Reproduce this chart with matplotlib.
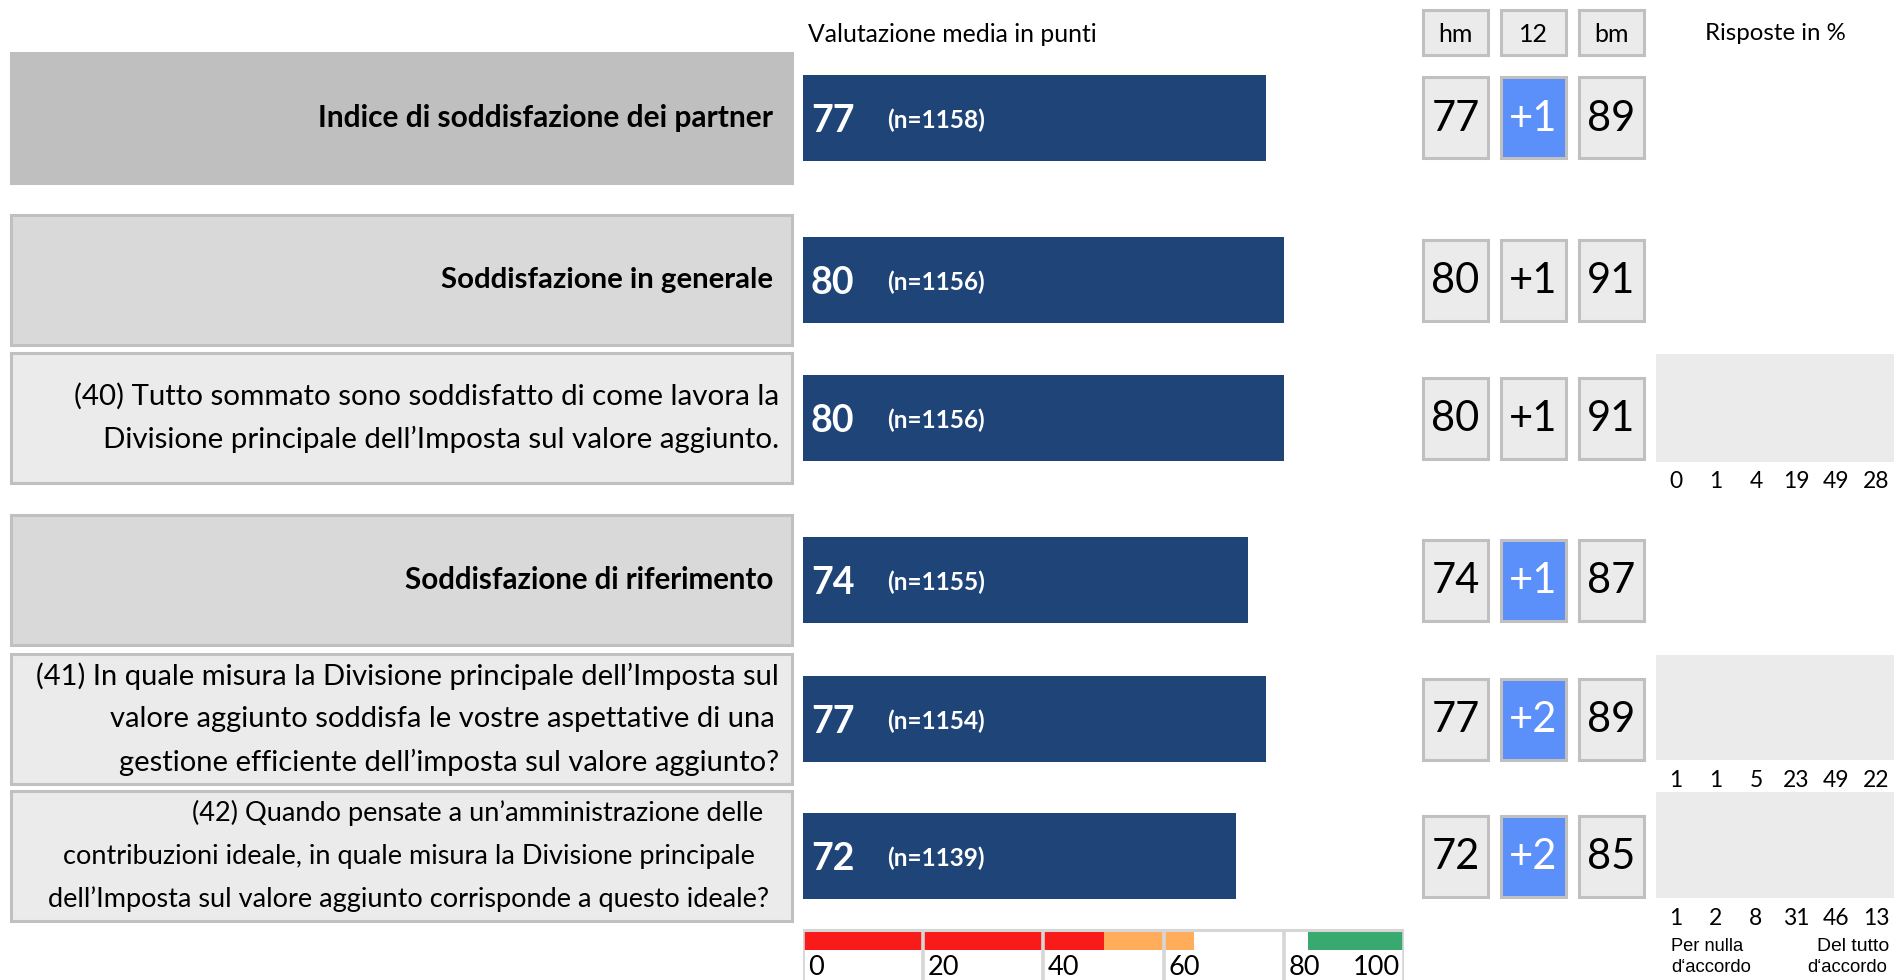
import matplotlib
matplotlib.use("Agg")
import matplotlib.pyplot as plt
from matplotlib.patches import Rectangle

# ---------------- data ----------------
labels = [
    ["Indice di soddisfazione dei partner"],
    ["Soddisfazione in generale"],
    ["(40) Tutto sommato sono soddisfatto di come lavora la",
     "Divisione principale dell\u2019Imposta sul valore aggiunto."],
    ["Soddisfazione di riferimento"],
    ["(41) In quale misura la Divisione principale dell\u2019Imposta sul",
     "valore aggiunto soddisfa le vostre aspettative di una",
     "gestione efficiente dell\u2019imposta sul valore aggiunto?"],
    ["(42) Quando pensate a un\u2019amministrazione delle",
     "contribuzioni ideale, in quale misura la Divisione principale",
     "dell\u2019Imposta sul valore aggiunto corrisponde a questo ideale?"],
]
label_bold = [True, True, False, True, False, False]
scores = [77, 80, 80, 74, 77, 72]
n_resp = [1158, 1156, 1156, 1155, 1154, 1139]
hm_vals = [77, 80, 80, 74, 77, 72]
delta_vals = ["+1", "+1", "+1", "+1", "+2", "+2"]
delta_highlight = [True, False, False, True, True, True]
bm_vals = [89, 91, 91, 87, 89, 85]
dist_rows = [2, 4, 5]
dist_vals = [[0, 1, 4, 19, 49, 28],
             [1, 1, 5, 23, 49, 22],
             [1, 2, 8, 31, 46, 13]]
col_headers = ["hm", "12", "bm"]
scale_ticks = [0, 20, 40, 60, 80, 100]
band_lo = [0, 50, 84]
band_hi = [50, 65, 100]
band_colors = ["#f91a1a", "#ffad5b", "#38a96f"]

# ---------------- layout ----------------
W, H = 1894, 980
FONT = "Lato"
NAVY = "#1e4478"
GRID = "#c0c0c0"
row_top = [53, 215, 353, 515, 654, 791]
row_h = 130
row_fill = ["#bfbfbf", "#d9d9d9", "#ebebeb", "#d9d9d9", "#ebebeb", "#ebebeb"]
row_edge = ["#bfbfbf", GRID, GRID, GRID, GRID, GRID]
centers = [t + row_h / 2 for t in row_top]
# line geometry for labels: (right x, target width)
line_geom = [
    [(773, 457)],
    [(773, 333)],
    [(779, 702), (779, 674)],
    [(773, 371)],
    [(779, 756), (775, 651), (779, 655)],
    [(763, 543), (755, 698), (769, 742)],
]
line_gap = 43

fig = plt.figure(figsize=(W / 100, H / 100), dpi=100)
bg = fig.add_axes([0, 0, 1, 1])
bg.set_xlim(0, W)
bg.set_ylim(H, 0)
bg.axis("off")

bx = fig.add_axes([803 / W, 0, 601 / W, 1])
bx.set_xlim(0, 100)
bx.set_ylim(H, 0)
bx.axis("off")
bx.patch.set_alpha(0)

fig.canvas.draw()
rend = fig.canvas.get_renderer()


def fit(t, target):
    w = t.get_window_extent(rend).width
    t.set_fontsize(t.get_fontsize() * target / w)
    return t.get_fontsize()


def box(x0, y0, w, h, fc, ec=GRID, lw=2.2):
    bg.add_patch(Rectangle((x0, y0), w, h, facecolor=fc, edgecolor=ec,
                           linewidth=lw, zorder=1))


# label boxes + label text
for i in range(len(labels)):
    box(11, row_top[i], 781, row_h, row_fill[i], row_edge[i])
    lines = labels[i]
    k = len(lines)
    texts = []
    sizes = []
    for j, s in enumerate(lines):
        y = centers[i] + (j - (k - 1) / 2) * line_gap
        xr, tw = line_geom[i][j]
        t = bg.text(xr, y, s, ha="right", va="center", fontsize=18,
                    family=FONT, fontweight="bold" if label_bold[i] else "normal",
                    color="black", zorder=3)
        sizes.append(fit(t, tw))
        texts.append(t)
    fs = sum(sizes) / len(sizes)
    for t in texts:
        t.set_fontsize(fs)

# bars (drawn in the 0-100 score axes)
bx.barh(centers, scores, height=86, color=NAVY, zorder=2)
for i, c in enumerate(centers):
    bx.text(811, c + 3, str(scores[i]), ha="left", va="center",
            transform=bg.transData, family=FONT, fontweight="bold",
            color="white", fontsize=27, zorder=5)
    t2 = bx.text(887, c + 2, f"(n={n_resp[i]})", ha="left", va="center",
                 transform=bg.transData, family=FONT, fontweight="bold",
                 color="white", fontsize=15, zorder=5)
    fit(t2, 98)

# header texts
t = bg.text(808, 35, "Valutazione media in punti", ha="left", va="center",
            family=FONT, fontsize=16)
fit(t, 290)
t = bg.text(1775, 34, "Risposte in %", ha="center", va="center",
            family=FONT, fontsize=16)
fit(t, 141)

# hm / 12 / bm boxes
col_x = [1423, 1501, 1579]
col_w = 65
for k, hdr in enumerate(col_headers):
    box(col_x[k], 10, col_w, 45, "#ebebeb")
    bg.text(col_x[k] + col_w / 2, 34, hdr, ha="center", va="center",
            family=FONT, fontsize=18, zorder=3)

for i, c in enumerate(centers):
    bh = 81
    y0 = c - bh / 2
    box(col_x[0], y0, col_w, bh, "#ebebeb")
    bg.text(col_x[0] + col_w / 2, c + 1, str(hm_vals[i]), ha="center", va="center",
            family=FONT, fontsize=30, zorder=3)
    hi = delta_highlight[i]
    box(col_x[1], y0, col_w, bh, "#5b8ff9" if hi else "#ebebeb")
    bg.text(col_x[1] + col_w / 2, c + 1, delta_vals[i], ha="center", va="center",
            family=FONT, fontsize=30, color="white" if hi else "black", zorder=3)
    box(col_x[2], y0, col_w, bh, "#ebebeb")
    bg.text(col_x[2] + col_w / 2, c + 1, str(bm_vals[i]), ha="center", va="center",
            family=FONT, fontsize=30, zorder=3)

# response distribution panels
dist_box_h = [108, 105, 106]
num_y = [481, 780, 918]
for m, r in enumerate(dist_rows):
    y0 = row_top[r] + 1
    bg.add_patch(Rectangle((1656, y0), 238, dist_box_h[m], facecolor="#ebebeb",
                           edgecolor="none", zorder=1))
    for q, v in enumerate(dist_vals[m]):
        bg.text(1656 + (q + 0.5) * 40, num_y[m], str(v), ha="center", va="center",
                family=FONT, fontsize=16.5, zorder=3)

t = bg.text(1671, 946, "Per nulla", ha="left", va="center",
            family="Liberation Sans", fontsize=11)
fit(t, 72)
t = bg.text(1671, 967, "d\u2018accordo", ha="left", va="center",
            family="Liberation Sans", fontsize=11)
fit(t, 80)
t = bg.text(1889, 946, "Del tutto", ha="right", va="center",
            family="Liberation Sans", fontsize=11)
fit(t, 72)
t = bg.text(1887, 967, "d\u2018accordo", ha="right", va="center",
            family="Liberation Sans", fontsize=11)
fit(t, 80)

# colour scale legend
for lo, hi_, col in zip(band_lo, band_hi, band_colors):
    bx.barh(941, hi_ - lo, left=lo, height=18, color=col, zorder=2)
bx.hlines(930, 0, 100, color="#d6d6d6", lw=2.2, zorder=3)
bx.vlines(scale_ticks, 929, H, color="#d6d6d6", lw=2.6, zorder=3)
for tk in scale_ticks:
    if tk == 100:
        bx.text(tk - 0.6, 967, str(tk), ha="right", va="center",
                family=FONT, fontsize=19.5, zorder=4)
    else:
        bx.text(tk + 0.8, 967, str(tk), ha="left", va="center",
                family=FONT, fontsize=19.5, zorder=4)

fig.savefig("out.png", dpi=100)
